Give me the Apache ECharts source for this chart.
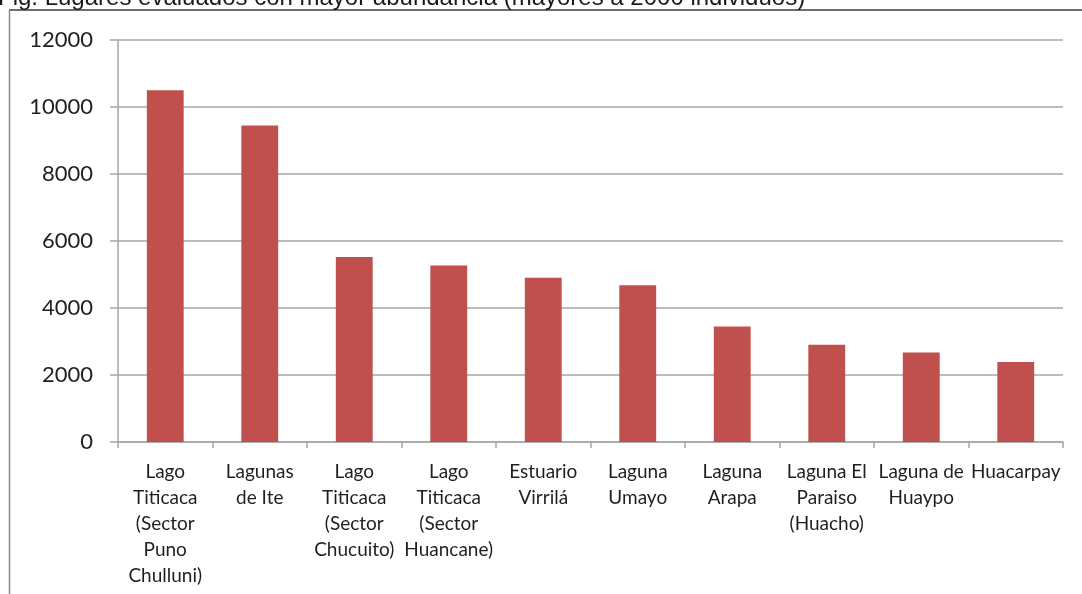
<!DOCTYPE html>
<html>
<head>
<meta charset="utf-8">
<script src="https://cdn.jsdelivr.net/npm/echarts@6/dist/echarts.min.js"></script>
<style>
  html, body { margin: 0; padding: 0; background: #fff; }
  #chart { width: 1082px; height: 594px; }
</style>
</head>
<body>
<div id="chart"></div>
<script>
const titleText = 'Fig. Lugares evaluados con mayor abundancia (mayores a 2000 individuos)';

const places = [
  'Lago\nTiticaca\n(Sector\nPuno\nChulluni)',
  'Lagunas\nde Ite',
  'Lago\nTiticaca\n(Sector\nChucuito)',
  'Lago\nTiticaca\n(Sector\nHuancane)',
  'Estuario\nVirrilá',
  'Laguna\nUmayo',
  'Laguna\nArapa',
  'Laguna El\nParaiso\n(Huacho)',
  'Laguna de\nHuaypo',
  'Huacarpay'
];

const abundance = [10500, 9450, 5520, 5270, 4900, 4680, 3450, 2900, 2670, 2390];

const yMin = 0;
const yMax = 12000;
const yStep = 2000;

const chart = echarts.init(document.getElementById('chart'));

const option = {
  backgroundColor: '#fff',
  animation: false,
  title: {
    text: titleText,
    left: -2,
    top: -14,
    padding: 0,
    textStyle: {
      fontFamily: 'Liberation Sans',
      fontSize: 24,
      fontWeight: 'normal',
      color: '#1a1a1a'
    }
  },
  graphic: [
    {
      type: 'line',
      shape: { x1: 9, y1: 10, x2: 1082, y2: 10 },
      style: { stroke: '#6e6e6e', lineWidth: 2 }
    },
    {
      type: 'line',
      shape: { x1: 9.5, y1: 10, x2: 9.5, y2: 594 },
      style: { stroke: '#8a8a8a', lineWidth: 1.5 }
    }
  ],
  grid: {
    left: 118,
    right: 19,
    top: 40,
    bottom: 152
  },
  xAxis: {
    type: 'category',
    data: places,
    axisLine: { lineStyle: { color: '#a6a6a6', width: 1.5 } },
    axisTick: { show: true, length: 6, alignWithLabel: false, lineStyle: { color: '#a6a6a6', width: 1.5 } },
    axisLabel: {
      interval: 0,
      margin: 17,
      fontFamily: 'Lato',
      fontSize: 19,
      lineHeight: 26,
      color: '#1f1f1f',
      align: 'center'
    }
  },
  yAxis: {
    type: 'value',
    min: yMin,
    max: yMax,
    interval: yStep,
    axisLine: { show: true, lineStyle: { color: '#a6a6a6', width: 1.5 } },
    axisTick: { show: true, length: 8, lineStyle: { color: '#a6a6a6', width: 1.5 } },
    splitLine: { lineStyle: { color: '#a6a6a6', width: 1.5 } },
    axisLabel: {
      margin: 25,
      fontFamily: 'Lato',
      fontSize: 22,
      color: '#1f1f1f',
      formatter: (v) => String(v)
    }
  },
  series: [
    {
      type: 'bar',
      data: abundance,
      barWidth: '39%',
      itemStyle: { color: '#c0504d' }
    }
  ]
};

chart.setOption(option);
</script>
</body>
</html>
